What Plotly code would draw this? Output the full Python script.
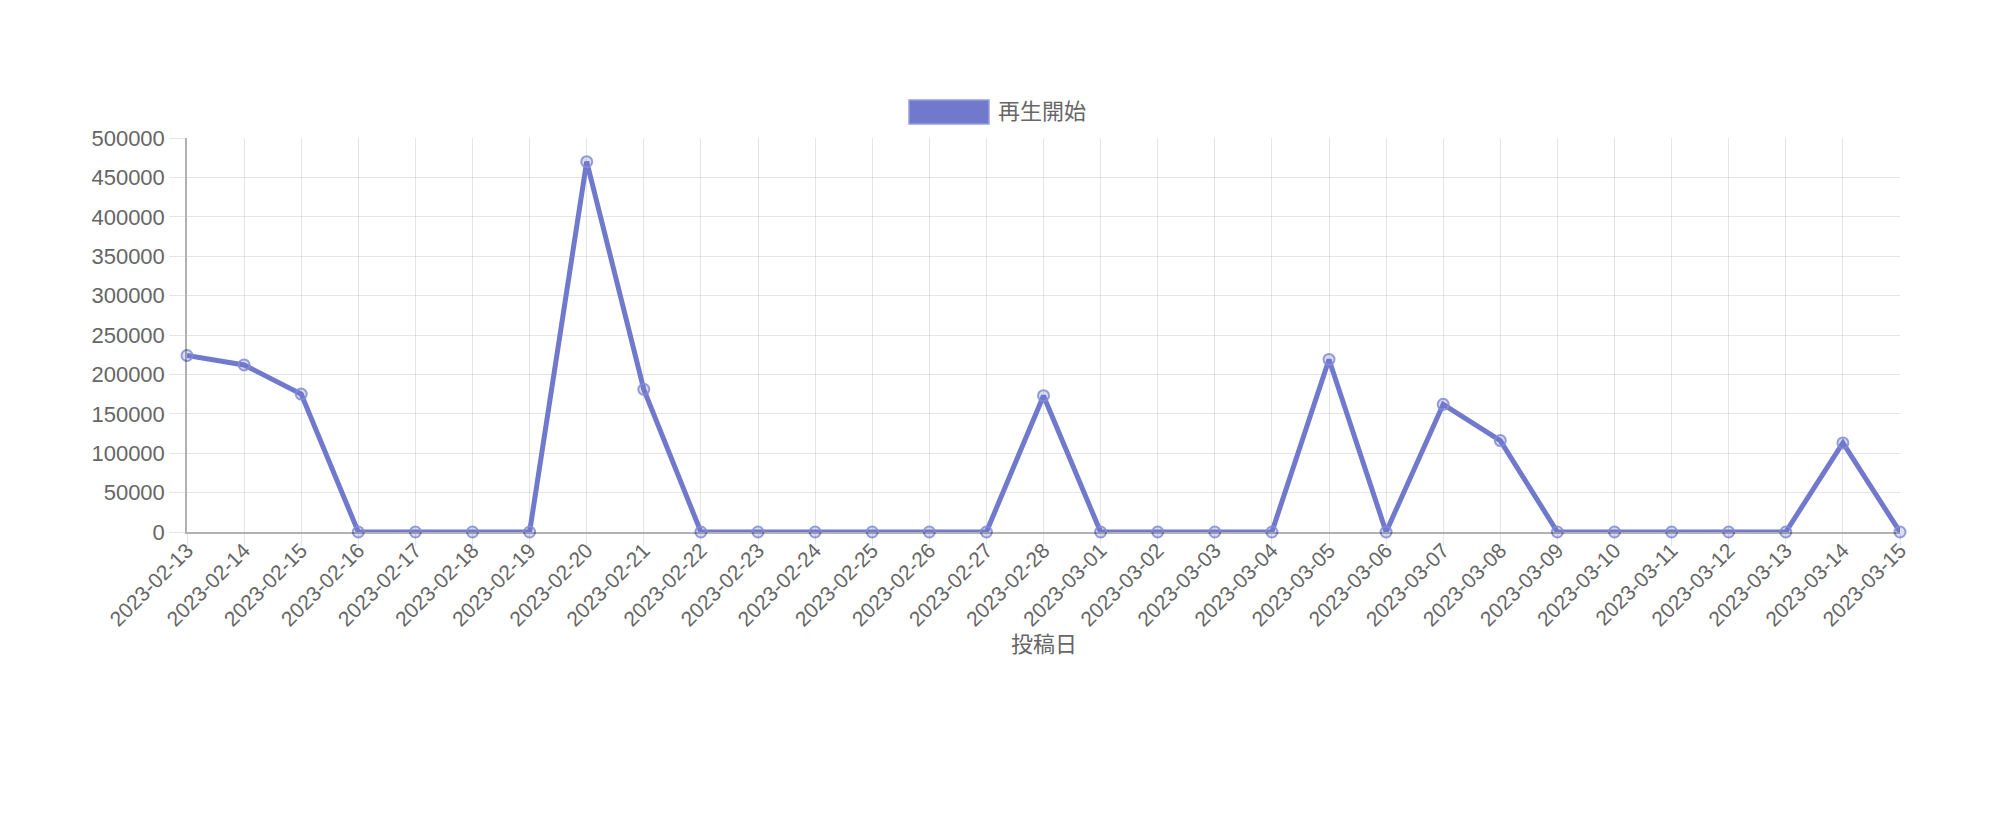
import plotly.graph_objects as go

# data
dates = [
    '2023-02-13', '2023-02-14', '2023-02-15', '2023-02-16', '2023-02-17',
    '2023-02-18', '2023-02-19', '2023-02-20', '2023-02-21', '2023-02-22',
    '2023-02-23', '2023-02-24', '2023-02-25', '2023-02-26', '2023-02-27',
    '2023-02-28', '2023-03-01', '2023-03-02', '2023-03-03', '2023-03-04',
    '2023-03-05', '2023-03-06', '2023-03-07', '2023-03-08', '2023-03-09',
    '2023-03-10', '2023-03-11', '2023-03-12', '2023-03-13', '2023-03-14',
    '2023-03-15',
]
plays = [
    224000, 212000, 175000, 0, 0,
    0, 0, 470000, 181000, 0,
    0, 0, 0, 0, 0,
    173000, 0, 0, 0, 0,
    219000, 0, 162000, 116000, 0,
    0, 0, 0, 0, 113000,
    0,
]
series_name = '再生開始'
x_title = '投稿日'
y_ticks = list(range(0, 500001, 50000))

# the page body has an 8px default margin, so the figure is drawn 8px in
OFF = 8
W, H = 2000 - 2 * OFF, 825 - 2 * OFF
L, R, T, B = 187 - OFF, 1900 - OFF, 138 - OFF, 532 - OFF  # plot area, figure px

LINE = '#7079cc'
FONT = 'Liberation Sans, Arial, Noto Sans CJK JP, sans-serif'
TXT = '#666666'
GRID = 'rgba(0,0,0,0.1)'


def px_x(p):
    return (p - OFF - L) / (R - L)


def px_y(p):
    return (B - (p - OFF)) / (B - T)


fig = go.Figure()
fig.add_trace(go.Scatter(
    x=dates,
    y=plays,
    mode='lines+markers',
    name=series_name,
    line=dict(color=LINE, width=5),
    marker=dict(size=11, color='rgba(112,121,204,0.25)',
                line=dict(color='rgba(130,140,215,0.85)', width=2)),
    cliponaxis=False,
    showlegend=False,
))

# chart.js style legend box
fig.add_shape(type='rect', xref='paper', yref='paper',
              x0=px_x(909), x1=px_x(989), y0=px_y(124), y1=px_y(100),
              fillcolor=LINE, line=dict(color='rgba(150,158,225,1)', width=1.5))
fig.add_annotation(xref='paper', yref='paper', x=px_x(996), y=px_y(112),
                   text=series_name, showarrow=False, xanchor='left', yanchor='middle',
                   font=dict(family=FONT, size=22, color=TXT))
fig.add_annotation(xref='paper', yref='paper', x=0.5, y=px_y(644),
                   text=x_title, showarrow=False, xanchor='center', yanchor='middle',
                   font=dict(family=FONT, size=22, color=TXT))

fig.update_layout(
    width=W, height=H,
    margin=dict(l=L, r=W - R, t=T, b=H - B, autoexpand=False),
    paper_bgcolor='white',
    plot_bgcolor='white',
    font=dict(family=FONT, size=21, color=TXT),
    xaxis=dict(
        type='category',
        range=[0, len(dates) - 1],
        tickangle=-45,
        showgrid=True, gridcolor=GRID, gridwidth=1,
        ticks='outside', ticklen=12, tickcolor=GRID,
        ticklabelstandoff=-16,
        showline=True, linecolor='rgba(0,0,0,0.3)', linewidth=1.5,
        tickfont=dict(size=21, color=TXT),
        automargin=False,
    ),
    yaxis=dict(
        range=[0, 500000],
        tickvals=y_ticks,
        tickformat='d',
        showgrid=True, gridcolor=GRID, gridwidth=1,
        ticks='outside', ticklen=16, tickcolor=GRID,
        showline=True, linecolor='rgba(0,0,0,0.3)', linewidth=1.5,
        zeroline=False,
        tickfont=dict(size=22, color=TXT),
        automargin=False,
    ),
)

fig.write_html('out.html')
